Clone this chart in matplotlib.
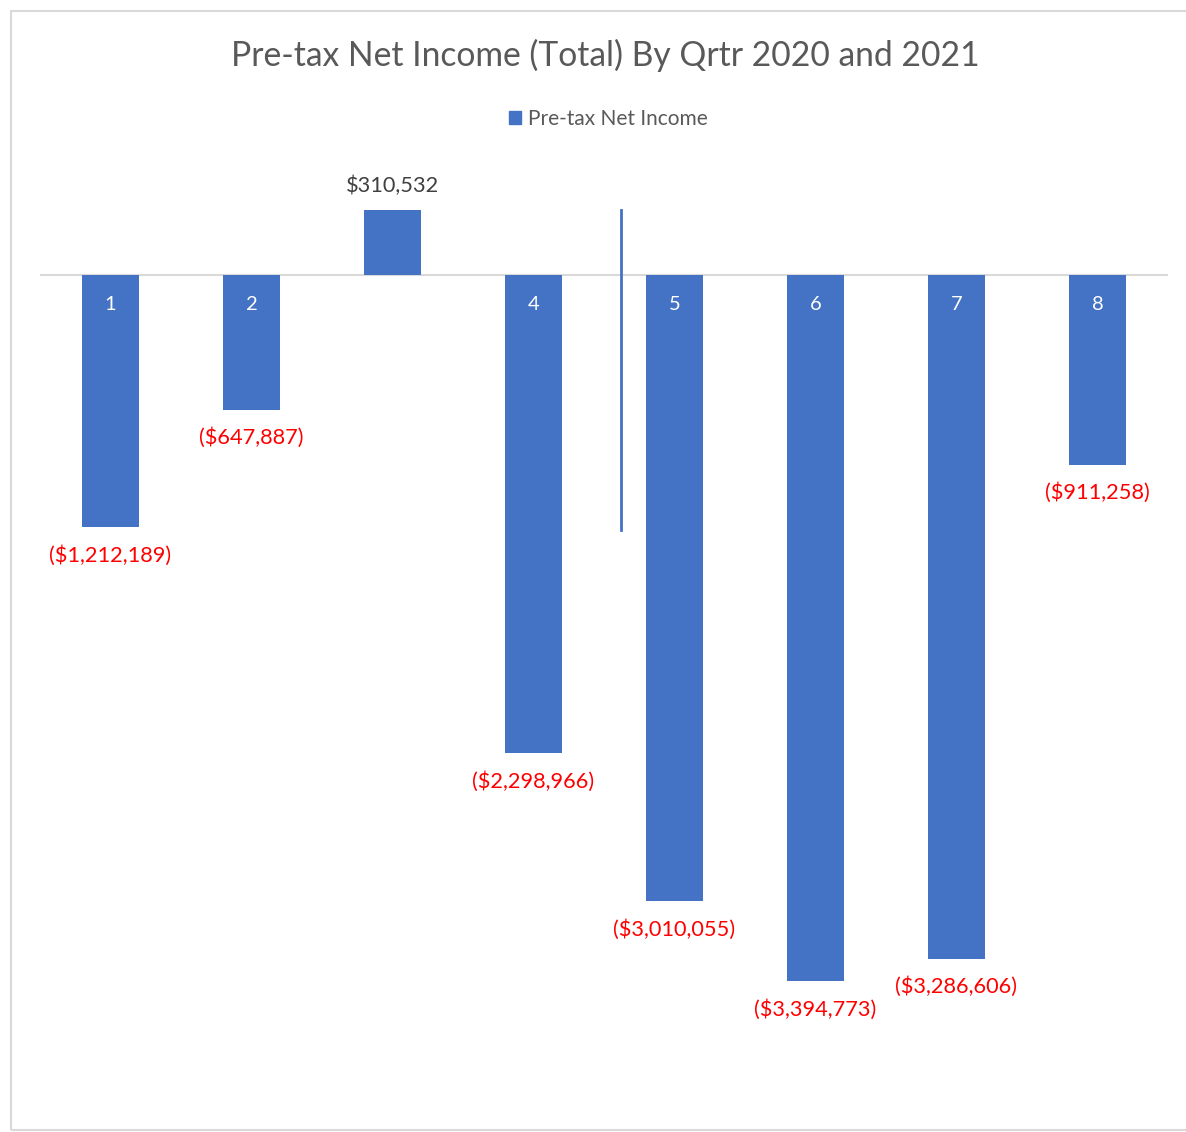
import matplotlib
matplotlib.use("Agg")
import matplotlib.pyplot as plt
from matplotlib.patches import Rectangle

quarters = ["1", "2", "3", "4", "5", "6", "7", "8"]
pretax_income = [-1212189, -647887, 310532, -2298966, -3010055, -3394773, -3286606, -911258]
value_labels = ["($1,212,189)", "($647,887)", "$310,532", "($2,298,966)",
                "($3,010,055)", "($3,394,773)", "($3,286,606)", "($911,258)"]
divider_x = 4.62
divider_span = [310532, -1225000]

BAR = "#4472C4"
W, H = 1186, 1132
fig = plt.figure(figsize=(W / 100, H / 100), dpi=100)
fig.patch.set_facecolor("white")
FONT = "Lato"

# chart frame
fig.add_artist(Rectangle((11 / W, 1 - 1130 / H), 1.2, (1130 - 11) / H,
                         transform=fig.transFigure, fill=False,
                         edgecolor="#D9D9D9", lw=1.5))

ax_left, ax_right = 40 / W, 1168 / W
ax_top, ax_bot = 140, 1100
ax = fig.add_axes([ax_left, 1 - ax_bot / H, ax_right - ax_left, (ax_bot - ax_top) / H])
ppm = 208.0  # pixels per million
ymax = (275 - ax_top) / ppm * 1e6
ymin = -(ax_bot - 275) / ppm * 1e6
ax.set_ylim(ymin, ymax)
ax.set_xlim(0.5, 8.5)
ax.axis("off")

xs = list(range(1, len(quarters) + 1))
ax.bar(xs, pretax_income, width=0.40, color=BAR, zorder=2)
ax.axhline(0, color="#D9D9D9", lw=1.5, zorder=1)

px = 1e6 / ppm
for x, v, lab, q in zip(xs, pretax_income, value_labels, quarters):
    if v < 0:
        ax.text(x, v - 28 * px, lab, ha="center", va="center", color="#FF0000",
                fontsize=15.7, family=FONT)
        ax.text(x, -30 * px, q, ha="center", va="center", color="white",
                fontsize=14.5, family=FONT, zorder=3)
    else:
        ax.text(x, v + 25 * px, lab, ha="center", va="center", color="#404040",
                fontsize=15.7, family=FONT)

ax.plot([divider_x, divider_x], divider_span, color=BAR, lw=2, zorder=3)

fig.text(605 / W, 1 - 55 / H, "Pre-tax Net Income (Total) By Qrtr 2020 and 2021",
         ha="center", va="center", fontsize=24.2, color="#595959", family=FONT)

handle = Rectangle((0, 0), 1, 1, color=BAR)
fig.legend([handle], ["Pre-tax Net Income"], loc="center", bbox_to_anchor=(608 / W, 1 - 119 / H),
           frameon=False, prop={"family": FONT, "size": 15}, labelcolor="#595959",
           handlelength=0.6, handleheight=0.6, handletextpad=0.3)

fig.savefig("out.png", dpi=100)
